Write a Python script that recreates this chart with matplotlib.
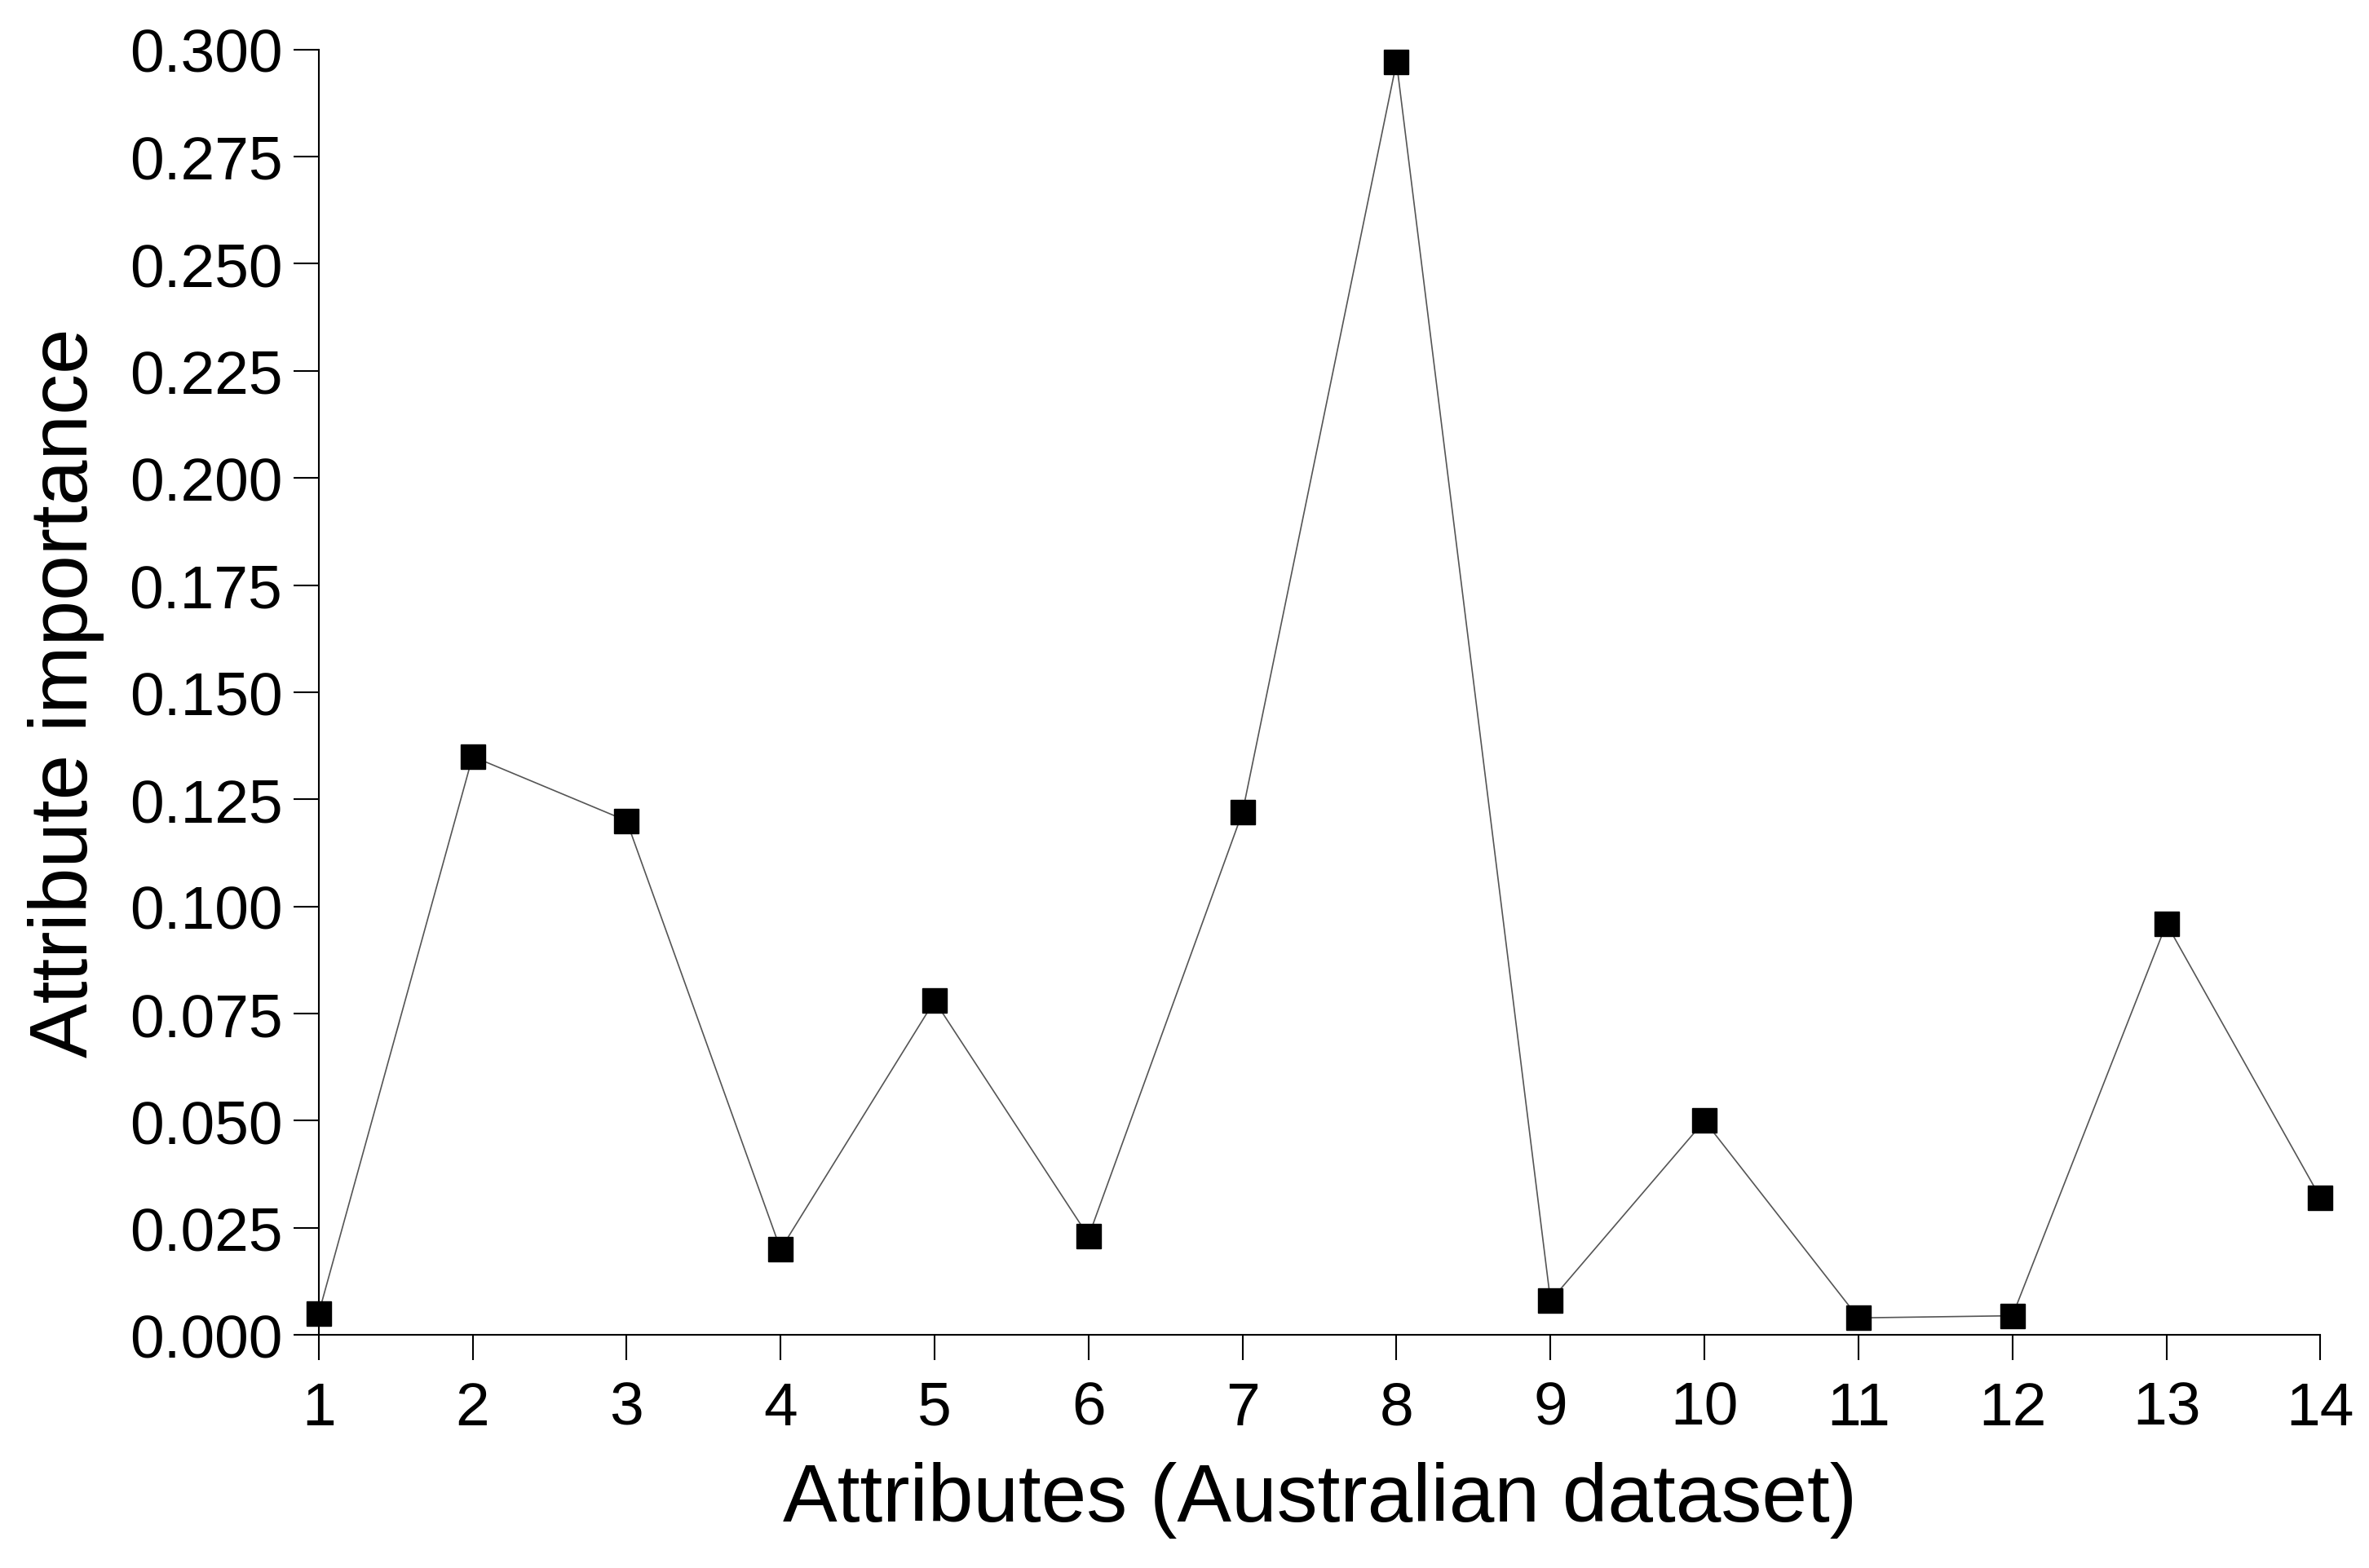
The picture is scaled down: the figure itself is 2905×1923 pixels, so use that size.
import matplotlib
matplotlib.use("Agg")
import matplotlib.pyplot as plt

attributes = list(range(1, 15))
importance = [0.005, 0.135, 0.120, 0.020, 0.078, 0.023, 0.122, 0.297, 0.008, 0.050, 0.004, 0.0045, 0.096, 0.032]
yticks = [0.000, 0.025, 0.050, 0.075, 0.100, 0.125, 0.150, 0.175, 0.200, 0.225, 0.250, 0.275, 0.300]

plt.rcParams['font.family'] = ['Liberation Sans', 'DejaVu Sans']
fig = plt.figure(figsize=(29.05, 19.24), dpi=100)
ax = fig.add_axes([0.1345, 0.1485, 0.845, 0.8195])
ax.plot(attributes, importance, color='#555555', lw=1.2, marker='s', ms=22,
        mfc='black', mec='black', clip_on=False)
ax.set_xlim(1, 14)
ax.set_ylim(0, 0.3)
ax.set_xticks(attributes)
ax.set_yticks(yticks)
ax.set_yticklabels([f"{v:.3f}" for v in yticks])
for s in ['top', 'right']:
    ax.spines[s].set_visible(False)
for s in ['left', 'bottom']:
    ax.spines[s].set_linewidth(1.5)
ax.tick_params(axis='both', labelsize=54, width=1.5, length=22, direction='out')
ax.tick_params(axis='y', pad=10)
ax.tick_params(axis='x', pad=18)
ax.set_xlabel('Attributes (Australian dataset)', fontsize=72, labelpad=22)
ax.set_ylabel('Attribute importance', fontsize=72, labelpad=22)
fig.savefig('out.png', dpi=100)
